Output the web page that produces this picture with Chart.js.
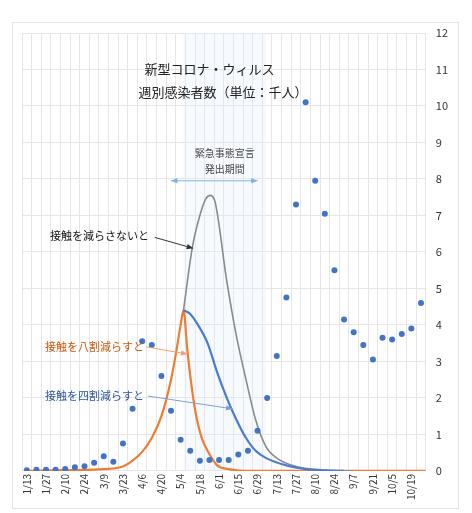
<!DOCTYPE html>
<html><head><meta charset="utf-8">
<script src="https://cdn.jsdelivr.net/npm/chart.js@4"></script>
<style>
body{margin:0;background:#fff;}
#wrap{position:relative;width:472px;height:513px;}
#frame{position:absolute;left:12px;top:22px;width:445px;height:485px;border:1px solid #e4e4e4;}
</style></head>
<body><div id="wrap"><div id="frame"></div><canvas id="c" width="472" height="513"></canvas></div>
<script>
// weekly labels, 1/13 .. 10/26
const weeks = ['1/13','1/20','1/27','2/3','2/10','2/17','2/24','3/2','3/9','3/16','3/23','3/30','4/6','4/13','4/20','4/27','5/4','5/11','5/18','5/25','6/1','6/8','6/15','6/22','6/29','7/6','7/13','7/20','7/27','8/3','8/10','8/17','8/24','8/31','9/7','9/14','9/21','9/28','10/5','10/12','10/19','10/26'];
// weekly cases (thousands)
const cases = [0.02,0.03,0.03,0.03,0.05,0.1,0.13,0.22,0.4,0.25,0.75,1.7,3.55,3.45,2.6,1.65,0.85,0.55,0.28,0.3,0.3,0.3,0.45,0.55,1.1,2.0,3.15,4.75,7.3,10.1,7.95,7.05,5.5,4.15,3.8,3.45,3.05,3.65,3.6,3.75,3.9,4.6];
// model curves (x = week index)
const orangeX = [0,4,8,10,11,12,13,14,15,15.5,16,16.3,16.7,17.2,17.7,18.2,18.8,19.8,21,22.5,30,41.5];
const orangeY = [0,0.02,0.05,0.12,0.28,0.52,0.9,1.5,2.5,3.2,4.0,4.4,3.3,2.2,1.4,0.9,0.55,0.15,0.05,0,0,0];
const grayX = [16.3,17.2,18,18.6,19.1,19.6,20.8,21.8,22.8,23.8,24.9,26,28,30,32,34];
const grayY = [4.4,6.1,7.0,7.45,7.55,7.35,5.2,3.7,2.5,1.4,0.65,0.35,0.12,0.04,0.01,0];
const blueX = [16.3,17,17.8,18.8,19.8,20.8,21.8,22.8,23.8,24.9,27,29,31,33];
const blueY = [4.4,4.3,4.0,3.5,2.7,2.0,1.4,0.9,0.55,0.35,0.15,0.05,0.01,0];
const yTicks = [0,1,2,3,4,5,6,7,8,9,10,11,12];
const emergency = [16.3, 24.9];

const pts = (xs, ys) => xs.map((x, i) => ({x: x, y: ys[i]}));
const FONT = '"Noto Sans CJK JP", "Noto Sans", sans-serif';

const notes = {
  id: 'notes',
  beforeDatasetsDraw(chart) {
    const {ctx, chartArea: a, scales} = chart;
    const x = scales.xl;
    ctx.save();
    ctx.fillStyle = 'rgba(225,236,248,0.3)';
    ctx.fillRect(x.getPixelForValue(emergency[0]), a.top, x.getPixelForValue(emergency[1]) - x.getPixelForValue(emergency[0]), a.bottom - a.top);
    ctx.restore();
  },
  afterDatasetsDraw(chart) {
    const {ctx, scales} = chart;
    const x = scales.xl, y = scales.y;
    const P = (wx, vy) => [x.getPixelForValue(wx), y.getPixelForValue(vy)];
    function arrow(a, b, col, both) {
      ctx.strokeStyle = col; ctx.fillStyle = col; ctx.lineWidth = 1;
      ctx.beginPath(); ctx.moveTo(a[0], a[1]); ctx.lineTo(b[0], b[1]); ctx.stroke();
      const head = (p, q) => {
        const ang = Math.atan2(q[1] - p[1], q[0] - p[0]);
        ctx.beginPath(); ctx.moveTo(q[0], q[1]);
        ctx.lineTo(q[0] - 7 * Math.cos(ang - 0.4), q[1] - 7 * Math.sin(ang - 0.4));
        ctx.lineTo(q[0] - 7 * Math.cos(ang + 0.4), q[1] - 7 * Math.sin(ang + 0.4));
        ctx.closePath(); ctx.fill();
      };
      head(a, b); if (both) head(b, a);
    }
    function text(s, p, col, size, align) {
      ctx.fillStyle = col; ctx.font = size + 'px ' + FONT;
      ctx.textAlign = align || 'center'; ctx.textBaseline = 'middle';
      ctx.fillText(s, p[0], p[1]);
    }
    ctx.save();
    text('新型コロナ・ウィルス', P(19.0, 11.0), '#222', 13);
    text('週別感染者数（単位：千人）', P(20.4, 10.37), '#222', 13);
    text('緊急事態宣言', P(20.6, 8.7), '#444', 10);
    text('発出期間', P(20.6, 8.27), '#444', 10);
    arrow(P(15.0, 7.95), P(24.0, 7.95), '#7fb2e5', true);
    text('接触を減らさないと', P(2.4, 6.43), '#111', 11, 'left');
    arrow(P(13.3, 6.4), P(17.3, 6.1), '#333');
    text('接触を八割減らすと', P(1.9, 3.4), '#c55a11', 11, 'left');
    arrow(P(12.4, 3.4), P(16.7, 3.2), '#f4a070');
    text('接触を四割減らすと', P(1.9, 2.05), '#2f5597', 11, 'left');
    arrow(P(12.6, 2.05), P(21.4, 1.7), '#7f9fd8');
    ctx.restore();
  }
};

new Chart(document.getElementById('c').getContext('2d'), {
  data: {
    labels: weeks,
    datasets: [
      {type: 'line', data: pts(orangeX, orangeY), xAxisID: 'xl', borderColor: '#ed7d31', borderWidth: 2.2, pointRadius: 0, cubicInterpolationMode: 'monotone', order: 3},
      {type: 'line', data: pts(grayX, grayY), xAxisID: 'xl', borderColor: '#8a8a8a', borderWidth: 1.6, pointRadius: 0, cubicInterpolationMode: 'monotone', order: 2},
      {type: 'line', data: pts(blueX, blueY), xAxisID: 'xl', borderColor: '#4a7bd0', borderWidth: 2.2, pointRadius: 0, cubicInterpolationMode: 'monotone', order: 1},
      {type: 'line', data: cases, xAxisID: 'x', showLine: false, pointRadius: 3, pointBackgroundColor: '#4472c4', pointBorderWidth: 0, order: 0}
    ]
  },
  options: {
    responsive: false, animation: false,
    layout: {padding: {left: 22, right: 14, top: 33, bottom: 10}},
    plugins: {legend: {display: false}, tooltip: {enabled: false}},
    scales: {
      x: {type: 'category', offset: true,
        grid: {offset: true, color: '#e6e6e6', drawTicks: false},
        border: {display: false},
        ticks: {autoSkip: false, maxRotation: 90, minRotation: 90, color: '#333', font: {size: 10, family: FONT},
          callback: (v, i) => (i % 2 === 0 && i < 41) ? weeks[i] : ''}},
      xl: {type: 'linear', display: false, min: -0.5, max: 41.5},
      y: {position: 'right', min: 0, max: 12, afterBuildTicks: s => { s.ticks = yTicks.map(v => ({value: v})); },
        grid: {color: '#e6e6e6', drawTicks: false}, border: {display: false},
        ticks: {color: '#333', padding: 10, font: {size: 11, family: FONT}}}
    }
  },
  plugins: [notes]
});
</script></body></html>
